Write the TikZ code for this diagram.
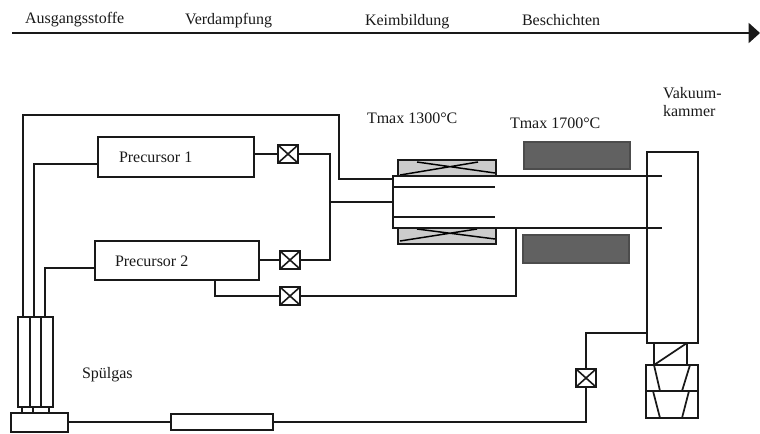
\documentclass[tikz,border=0pt]{standalone}
\usepackage{fontspec}
\setmainfont{Liberation Serif}
\usetikzlibrary{arrows.meta}
\newcommand{\boxnode}[6][boxpart]{%
  \pgfmathsetmacro{\bxw}{(#5-#3)*0.75}%
  \pgfmathsetmacro{\bxh}{(#6-#4)*0.75}%
  \pgfmathsetmacro{\bxcx}{(#5+#3)/2}%
  \pgfmathsetmacro{\bxcy}{(#6+#4)/2}%
  \node[#1,minimum width=\bxw pt,minimum height=\bxh pt] (#2) at (\bxcx,\bxcy) {};}
\tikzset{
  boxpart/.style={draw=black!90,line width=1.1pt,inner sep=0pt,outer sep=0pt},
  valvebox/.style={boxpart,fill=white,line width=1.5pt,minimum width=15pt,minimum height=13.5pt,
    path picture={\draw[line width=1.2pt] (path picture bounding box.north west)--(path picture bounding box.south east)
      (path picture bounding box.north east)--(path picture bounding box.south west);}},
  coolheat/.style={boxpart,fill=black!20},
  hotheat/.style={boxpart,fill=black!62,draw=black!70},
  pipe/.style={draw=black!90,line width=1.1pt,line join=miter},
  thinpipe/.style={pipe,line width=1.3pt},
  lbl/.style={anchor=base west,inner sep=0pt,outer sep=0pt,font=\fontsize{12}{14}\selectfont,text=black!90},
}
\begin{document}
\begin{tikzpicture}[x=0.75pt,y=-0.75pt]
\useasboundingbox (0,0) rectangle (760,433);
% process axis
\coordinate (axl) at (12,33);
\coordinate (axr) at (760,33);
\draw[pipe,line width=1.3pt,-{Triangle[length=8.5pt,width=15pt]}] (axl) -- (axr);
\node[lbl] (t1) at (25,23) {Ausgangsstoffe};
\node[lbl] (t2) at (185,24) {Verdampfung};
\node[lbl] (t3) at (365,25) {Keimbildung};
\node[lbl] (t4) at (522,25) {Beschichten};
% labels
\node[lbl] (t5) at (367,123) {Tmax 1300°C};
\node[lbl] (t6) at (510,128) {Tmax 1700°C};
\node[lbl] (t7) at (663,98) {Vakuum-};
\node[lbl] (t8) at (663,116) {kammer};
\node[lbl] (t9) at (82,378) {Spülgas};
% heaters
\boxnode[coolheat]{h1}{398}{160}{496}{176}
\boxnode[coolheat]{h2}{398}{228}{496}{244}
\boxnode[hotheat]{h3}{524}{142}{630}{169}
\boxnode[hotheat]{h4}{523}{235}{629}{263}
\draw[line width=1.1pt] (400,175)--(478,162) (417,162)--(495,173);
\draw[line width=1.1pt] (400,241)--(477,229) (417,229)--(495,239);
% boxes
\boxnode{p1}{98}{137}{254}{177}
\boxnode{p2}{95}{241}{259}{280}
\node[lbl] (p1t) at (119,162) {Precursor 1};
\node[lbl] (p2t) at (115,266) {Precursor 2};
\boxnode{cham}{647}{152}{698}{343}
\boxnode{neck}{654}{343}{687}{365}
\boxnode{pa}{646}{365}{698}{391}
\boxnode{pb}{646}{391}{698}{418}
\boxnode{tu1}{18}{317}{30}{407}
\boxnode{tu2}{30}{317}{41}{407}
\boxnode{tu3}{41}{317}{53}{407}
\boxnode{base}{11}{413}{68}{432}
\boxnode{flow}{171}{414}{273}{430}
% valves
\node[valvebox] (v1) at (288,154) {};
\node[valvebox] (v2) at (290,260) {};
\node[valvebox] (v3) at (290,296) {};
\node[valvebox] (v4) at (586,378) {};
% junctions
\coordinate (tubetl) at (393,176);
\coordinate (tubetr) at (662,176);
\coordinate (tubebl) at (393,228);
\coordinate (tubebr) at (662,228);
\coordinate (intl) at (393,187);
\coordinate (intr) at (495,187);
\coordinate (inbl) at (393,217);
\coordinate (inbr) at (495,217);
\coordinate (sup0) at (23,317);
\coordinate (sup1) at (34,317);
\coordinate (sup2) at (45,317);
\coordinate (o1) at (23,115);
\coordinate (o2) at (339,115);
\coordinate (o3) at (339,179);
\coordinate (o4) at (393,179);
\coordinate (p1a) at (98,164);
\coordinate (p2a) at (95,268);
\coordinate (j1) at (330,154);
\coordinate (j2) at (330,260);
\coordinate (j3) at (330,202);
\coordinate (j4) at (393,202);
\coordinate (p2b) at (215,280);
\coordinate (v3b) at (215,296);
\coordinate (k1) at (516,296);
\coordinate (k2) at (516,228);
\coordinate (c1) at (586,333);
\coordinate (c2) at (647,333);
\coordinate (c3) at (586,422);
\coordinate (c4) at (68,422);
\coordinate (c5) at (171,422);
\coordinate (c6) at (273,422);
% tube
\draw[thinpipe] (tubetr) -- (tubetl) -- (tubebl) -- (tubebr);
\draw[thinpipe] (intl) -- (intr);
\draw[thinpipe] (inbl) -- (inbr);
% piping
\draw[pipe] (sup0) -- (o1) -- (o2) -- (o3) -- (o4);
\draw[pipe] (sup1) |- (p1a);
\draw[pipe] (sup2) |- (p2a);
\draw[pipe] (p1.east |- v1) -- (v1);
\draw[pipe] (v1) -- (j1) -- (j2) -- (v2);
\draw[pipe] (p2.east |- v2) -- (v2);
\draw[pipe] (j3) -- (j4);
\draw[pipe] (p2b) -- (v3b) -- (v3);
\draw[pipe] (v3) -- (k1) -- (k2);
\draw[pipe] (c2) -- (c1) -- (v4);
\draw[pipe] (v4) -- (c3) -- (c6);
\draw[pipe] (c4) -- (c5);
% purge stubs
\draw[pipe] (22,407) -- (22,413) (33,407) -- (33,413) (49,407) -- (49,413);
% pump details
\draw[pipe,line width=1.3pt] (neck.south west) -- (neck.north east);
\draw[pipe,line width=1.3pt] (654,365) -- (660,391) (690,365) -- (682,391);
\draw[pipe,line width=1.3pt] (653,391) -- (660,418) (689,391) -- (682,418);
\end{tikzpicture}
\end{document}
